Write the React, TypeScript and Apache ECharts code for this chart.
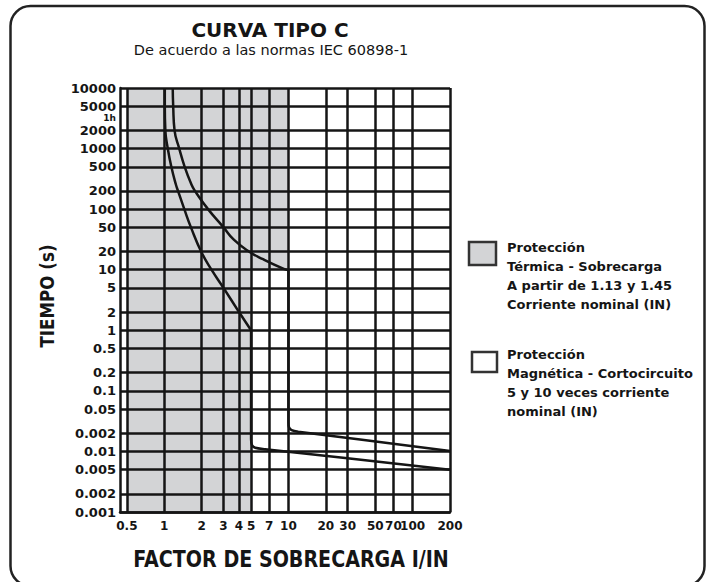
import React, { useEffect, useRef } from "react";
import * as echarts from "echarts";

// ---- data ----
const xTicks = [0.5, 1, 2, 3, 4, 5, 7, 10, 20, 30, 50, 70, 100, 200];
const xTickLabels = ["0.5", "1", "2", "3", "4", "5", "7", "10", "20", "30", "50", "70", "100", "200"];
const yTicks = [0.001, 0.002, 0.005, 0.01, 0.02, 0.05, 0.1, 0.2, 0.5, 1, 2, 5, 10, 20, 50, 100, 200, 500, 1000, 2000, 5000, 10000];
const yTickLabels = ["0.001", "0.002", "0.005", "0.01", "0.002", "0.05", "0.1", "0.2", "0.5", "1", "2", "5", "10", "20", "50", "100", "200", "500", "1000", "2000", "5000", "10000"];
const hourValue = 3600;
const hourLabel = "1h";

// thermal zone: [xFrom, yFrom, xTo, yTo]
const thermalZones = [
  [0.5, 0.001, 5, 10000],
  [5, 10, 10, 10000],
];

// lower curve (1.13 In): thermal part, then magnetic part
const curveLowThermal = [
  [1.01, 10000], [1.01, 5000], [1.02, 2000], [1.067, 1000], [1.14, 500], [1.24, 255], [1.29, 200],
  [1.45, 100], [1.64, 50], [1.98, 20], [2.4, 10], [3, 5], [4, 2], [5, 1],
];
const curveLowMagnetic = [
  [5, 1], [5, 0.016], [5.08, 0.0128], [5.4, 0.0115], [6.5, 0.0109], [200, 0.005],
];
// upper curve (1.45 In): thermal part, then magnetic part
const curveHighThermal = [
  [1.17, 10000], [1.18, 5000], [1.21, 2000], [1.32, 1000], [1.46, 500], [1.655, 255], [1.765, 200],
  [2.25, 100], [3, 50], [3.63, 31.3], [4.8, 20], [6.24, 14.9], [9.17, 10.3], [10, 9.8],
];
const curveHighMagnetic = [
  [10, 9.8], [10, 0.03], [10.1, 0.025], [10.6, 0.0225], [12, 0.0212], [200, 0.0102],
];

const legendThermal = ["Protección", "Térmica - Sobrecarga", "A partir de 1.13 y 1.45", "Corriente nominal (IN)"];
const legendMagnetic = ["Protección", "Magnética - Cortocircuito", "5 y 10 veces corriente", "nominal (IN)"];

const INK = "#151515";
const SHADE = "#d3d4d6";
const FONT = '"DejaVu Sans", sans-serif';

function matchLabel(v: number, ticks: number[], labels: string[]): string {
  let best = -1;
  let bd = Infinity;
  ticks.forEach((t, i) => {
    const d = Math.abs(Math.log10(t) - Math.log10(v));
    if (d < bd) { bd = d; best = i; }
  });
  return bd < 1e-4 ? labels[best] : "";
}

export default function App() {
  const ref = useRef<HTMLDivElement>(null);
  useEffect(() => {
    document.body.style.margin = "0";
    const chart = echarts.init(ref.current!, null, { renderer: "svg" });
    const curveStyle = { color: INK, width: 2.5 };
    const curve = (data: number[][], smooth: number) => ({
      type: "line",
      data,
      z: 5,
      symbol: "none",
      smooth,
      lineStyle: curveStyle,
    });
    chart.setOption({
      animation: false,
      backgroundColor: "#ffffff",
      textStyle: { fontFamily: FONT },
      grid: { left: 120, right: 259, top: 88, bottom: 70, containLabel: false },
      xAxis: {
        type: "log",
        logBase: 10,
        min: 0.44,
        max: 200,
        z: 3,
        axisLine: { show: true, lineStyle: { color: INK, width: 2.5 } },
        axisTick: { show: false, customValues: xTicks },
        axisLabel: {
          customValues: xTicks,
          formatter: (v: number) => matchLabel(v, xTicks, xTickLabels),
          color: INK,
          fontWeight: "bold",
          fontSize: 12,
          fontFamily: FONT,
          margin: 8,
        },
        splitLine: { show: true, lineStyle: { color: INK, width: 2.5 } },
        minorTick: { show: false },
        minorSplitLine: { show: false },
      },
      yAxis: {
        type: "log",
        logBase: 10,
        min: 0.001,
        max: 10000,
        z: 3,
        axisLine: { show: true, onZero: false, lineStyle: { color: INK, width: 2.5 } },
        axisTick: { show: false, customValues: yTicks },
        axisLabel: {
          customValues: [...yTicks, hourValue],
          formatter: (v: number) =>
            Math.abs(Math.log10(v) - Math.log10(hourValue)) < 1e-4
              ? "{h|" + hourLabel + "}"
              : matchLabel(v, yTicks, yTickLabels),
          color: INK,
          fontWeight: "bold",
          fontSize: 13,
          fontFamily: FONT,
          margin: 4,
          rich: { h: { fontSize: 9, fontWeight: "bold", color: INK, fontFamily: FONT, padding: [6, 0, 0, 0] } },
        },
        splitLine: { show: true, lineStyle: { color: INK, width: 2.5 } },
        minorTick: { show: false },
        minorSplitLine: { show: false },
      },
      series: [
        {
          type: "line",
          data: [],
          z: 1,
          silent: true,
          markArea: {
            silent: true,
            z: 1,
            itemStyle: { color: SHADE, borderWidth: 0 },
            data: thermalZones.map(([x0, y0, x1, y1]) => [
              { xAxis: x0, yAxis: y0 },
              { xAxis: x1, yAxis: y1 },
            ]),
          },
        },
        curve(curveLowThermal, 0.5),
        curve(curveLowMagnetic, 0.3),
        curve(curveHighThermal, 0.5),
        curve(curveHighMagnetic, 0.3),
      ],
      graphic: [
        {
          type: "rect",
          shape: { x: 10.5, y: 6, width: 694, height: 580, r: 20 },
          style: { fill: "none", stroke: "#222", lineWidth: 2.5 },
          z: 10,
        },
        {
          type: "text",
          x: 270,
          y: 30,
          style: { text: "CURVA TIPO C", fill: INK, font: "bold 20px " + FONT, align: "center", verticalAlign: "middle" },
        },
        {
          type: "text",
          x: 271,
          y: 49.5,
          style: { text: "De acuerdo a las normas IEC 60898-1", fill: INK, font: "14.5px " + FONT, align: "center", verticalAlign: "middle" },
        },
        {
          type: "text",
          x: 291,
          y: 559,
          scaleX: 0.83,
          style: { text: "FACTOR DE SOBRECARGA I/IN", fill: INK, font: "bold 23px " + FONT, align: "center", verticalAlign: "middle" },
        },
        {
          type: "text",
          x: 47,
          y: 296,
          rotation: Math.PI / 2,
          scaleX: 0.88,
          style: { text: "TIEMPO (s)", fill: INK, font: "bold 19px " + FONT, align: "center", verticalAlign: "middle" },
        },
        {
          type: "rect",
          shape: { x: 469, y: 242, width: 27, height: 23 },
          style: { fill: SHADE, stroke: "#333", lineWidth: 2.5 },
        },
        {
          type: "text",
          x: 507,
          y: 238,
          style: { text: legendThermal.join("\n"), fill: INK, font: "bold 13px " + FONT, lineHeight: 19, align: "left", verticalAlign: "top" },
        },
        {
          type: "rect",
          shape: { x: 472, y: 352, width: 25, height: 20 },
          style: { fill: "#fff", stroke: "#333", lineWidth: 2.5 },
        },
        {
          type: "text",
          x: 507,
          y: 345,
          style: { text: legendMagnetic.join("\n"), fill: INK, font: "bold 13px " + FONT, lineHeight: 19, align: "left", verticalAlign: "top" },
        },
      ],
    });
    return () => chart.dispose();
  }, []);
  return (
    <div
      ref={ref}
      style={{ position: "fixed", left: 0, top: 0, width: 709, height: 582, background: "#fff" }}
    />
  );
}
